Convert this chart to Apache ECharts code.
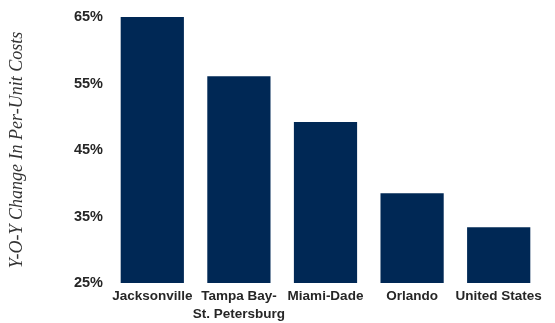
<!DOCTYPE html>
<html><head><meta charset="utf-8">
<script src="https://cdn.jsdelivr.net/npm/echarts@6/dist/echarts.min.js"></script>
<style>html,body{margin:0;padding:0;background:#fff}#c{width:555px;height:323px}</style>
</head><body><div id="c"></div>
<script>
var categories = ['Jacksonville', 'Tampa Bay-\nSt. Petersburg', 'Miami-Dade', 'Orlando', 'United States'];
var values = [65.0, 56.1, 49.2, 38.5, 33.4];
var yTicks = [25, 35, 45, 55, 65];
var chart = echarts.init(document.getElementById('c'));
chart.setOption({
  animation: false,
  grid: {left: 109, right: 13, top: 17, bottom: 40, outerBoundsMode: 'none', containLabel: false},
  xAxis: {
    type: 'category', data: categories,
    axisLine: {show: false}, axisTick: {show: false},
    axisLabel: {color: '#262626', fontFamily: 'Liberation Sans', fontWeight: 'bold', fontSize: 13.5, margin: 4, lineHeight: 18, interval: 0}
  },
  yAxis: {
    type: 'value', min: yTicks[0], max: yTicks[yTicks.length-1], interval: 10,
    splitLine: {show: false}, axisLine: {show: false}, axisTick: {show: false},
    axisLabel: {formatter: '{value}%', color: '#262626', fontFamily: 'Liberation Sans', fontWeight: 'bold', fontSize: 14.5, margin: 6},
    name: 'Y-O-Y Change In Per-Unit Costs', nameLocation: 'middle', nameGap: 83, nameRotate: 90,
    nameTextStyle: {fontFamily: 'Liberation Serif', fontStyle: 'italic', fontSize: 18, color: '#333'}
  },
  series: [{type: 'bar', data: values, barWidth: '73%', itemStyle: {color: '#002855'}}]
});
</script></body></html>
